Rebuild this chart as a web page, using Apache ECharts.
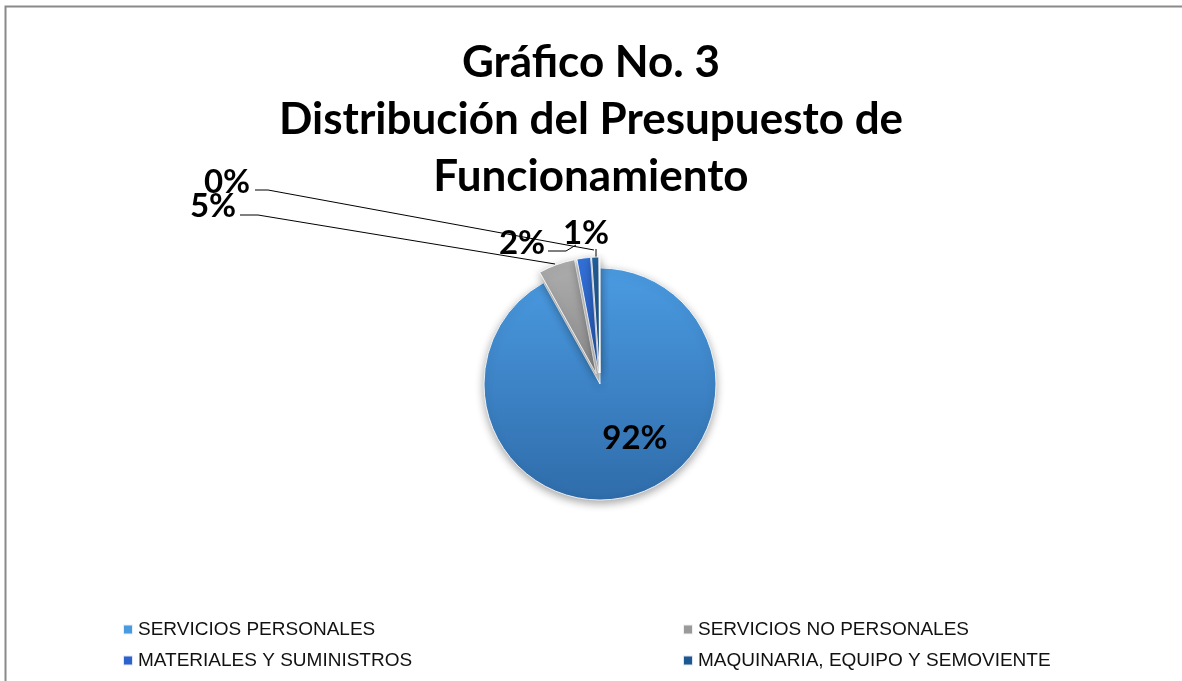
<!DOCTYPE html>
<html>
<head>
<meta charset="utf-8">
<script src="https://cdn.jsdelivr.net/npm/echarts@6/dist/echarts.min.js"></script>
<style>
html,body{margin:0;padding:0;background:#fff;}
#chart{width:1182px;height:681px;}
</style>
</head>
<body>
<div id="chart"></div>
<script>
// ---- data ----
const titleLines = ['Gráfico No. 3', 'Distribución del Presupuesto de', 'Funcionamiento'];
const categories = ['SERVICIOS PERSONALES', 'SERVICIOS NO PERSONALES', 'MATERIALES Y SUMINISTROS', 'MAQUINARIA, EQUIPO Y SEMOVIENTE', 'OTROS'];
const values = [91.9, 5.1, 1.9, 1.0, 0.1];
const legendLeft = ['SERVICIOS PERSONALES', 'MATERIALES Y SUMINISTROS'];
const legendRight = ['SERVICIOS NO PERSONALES', 'MAQUINARIA, EQUIPO Y SEMOVIENTE'];

// ---- styles ----
function grad(a, b) {
  return new echarts.graphic.LinearGradient(0, 0, 0, 1, [{offset: 0, color: a}, {offset: 1, color: b}]);
}
const fills = [
  grad('#4B9BE2', '#2F6CAA'),
  grad('#AEAEAE', '#8A8A8A'),
  grad('#3474DD', '#2758B5'),
  grad('#2563A0', '#1A4E82'),
  grad('#9DC3E6', '#7FA7CF')
];
const legendColors = ['#4A9ADF', '#9A9A9A', '#2C62C9', '#1D5690', '#9DC3E6'];

// label placement (annotation layout, per slice index)
const labelPos = [
  {x: 635, y: 438},
  {x: 213, y: 206, line: [[555, 264], [258, 215], [240, 215]]},
  {x: 522, y: 243, line: [[576, 245], [566, 251], [548, 251]]},
  {x: 586, y: 233, line: [[596, 258], [596, 249]]},
  {x: 227, y: 182, line: [[594, 250], [268, 190], [255, 190]]}
];

const labelFont = {fontFamily: 'Lato, sans-serif', fontWeight: 'bold', fontSize: 33, color: '#000'};
const pctFmt = p => Math.round(p.percent) + '%';

const sliceData = categories.map((c, i) => ({
  name: c,
  value: values[i],
  selected: i > 0,
  itemStyle: {color: fills[i]},
  label: {show: i === 0, position: 'inside'}
}));
const labelData = categories.map((c, i) => ({
  name: c,
  value: values[i],
  label: {show: i > 0},
  labelLine: {show: i > 0}
}));

const chart = echarts.init(document.getElementById('chart'), null, {renderer: 'canvas'});
const legendCommon = {
  orient: 'vertical',
  top: 615,
  itemWidth: 10,
  itemHeight: 10,
  itemGap: 12,
  icon: 'rect',
  selectedMode: false,
  textStyle: {fontFamily: 'Liberation Sans Narrow, Arial Narrow, sans-serif', fontSize: 19, color: '#111', padding: [0, 0, 0, 0]}
};
chart.setOption({
  backgroundColor: '#ffffff',
  color: legendColors,
  title: {
    text: titleLines.join('\n'),
    left: 'center',
    top: 29,
    textStyle: {fontFamily: 'Lato, sans-serif', fontWeight: 'bold', fontSize: 44, lineHeight: 57, color: '#000'}
  },
  legend: [
    Object.assign({}, legendCommon, {left: 117, data: legendLeft.map(n => ({name: n, itemStyle: {color: legendColors[categories.indexOf(n)]}}))}),
    Object.assign({}, legendCommon, {left: 677, data: legendRight.map(n => ({name: n, itemStyle: {color: legendColors[categories.indexOf(n)]}}))})
  ],
  graphic: [
    {type: 'polyline', shape: {points: [[5.5, 681], [5.5, 6.5], [1182, 6.5]]}, style: {stroke: '#8a8a8a', lineWidth: 2, fill: null}, silent: true}
  ],
  series: [{
    type: 'pie',
    center: [600, 384],
    radius: 116,
    startAngle: 90,
    clockwise: true,
    selectedMode: 'multiple',
    selectedOffset: 11,
    avoidLabelOverlap: false,
    animation: false,
    itemStyle: {
      borderColor: 'rgba(255,255,255,0.85)',
      borderWidth: 1,
      shadowBlur: 8,
      shadowOffsetY: 3,
      shadowColor: 'rgba(0,0,0,0.35)'
    },
    label: Object.assign({formatter: pctFmt}, labelFont),
    labelLine: {show: false},
    emphasis: {disabled: true},
    labelLayout: function (p) {
      const lp = labelPos[p.dataIndex];
      return {x: lp.x, y: lp.y, align: 'center', verticalAlign: 'middle'};
    },
    data: sliceData
  }, {
    type: 'pie',
    center: [600, 384],
    radius: 116,
    startAngle: 90,
    clockwise: true,
    silent: true,
    selectedMode: false,
    avoidLabelOverlap: false,
    animation: false,
    legendHoverLink: false,
    itemStyle: {color: 'rgba(0,0,0,0)', borderWidth: 0},
    label: Object.assign({formatter: pctFmt, position: 'outside'}, labelFont),
    labelLine: {lineStyle: {color: '#000', width: 1}},
    emphasis: {disabled: true},
    labelLayout: function (p) {
      const lp = labelPos[p.dataIndex];
      const r = {x: lp.x, y: lp.y, align: 'center', verticalAlign: 'middle', hideOverlap: false};
      if (lp.line) r.labelLinePoints = lp.line;
      return r;
    },
    data: labelData
  }]
});
</script>
</body>
</html>
